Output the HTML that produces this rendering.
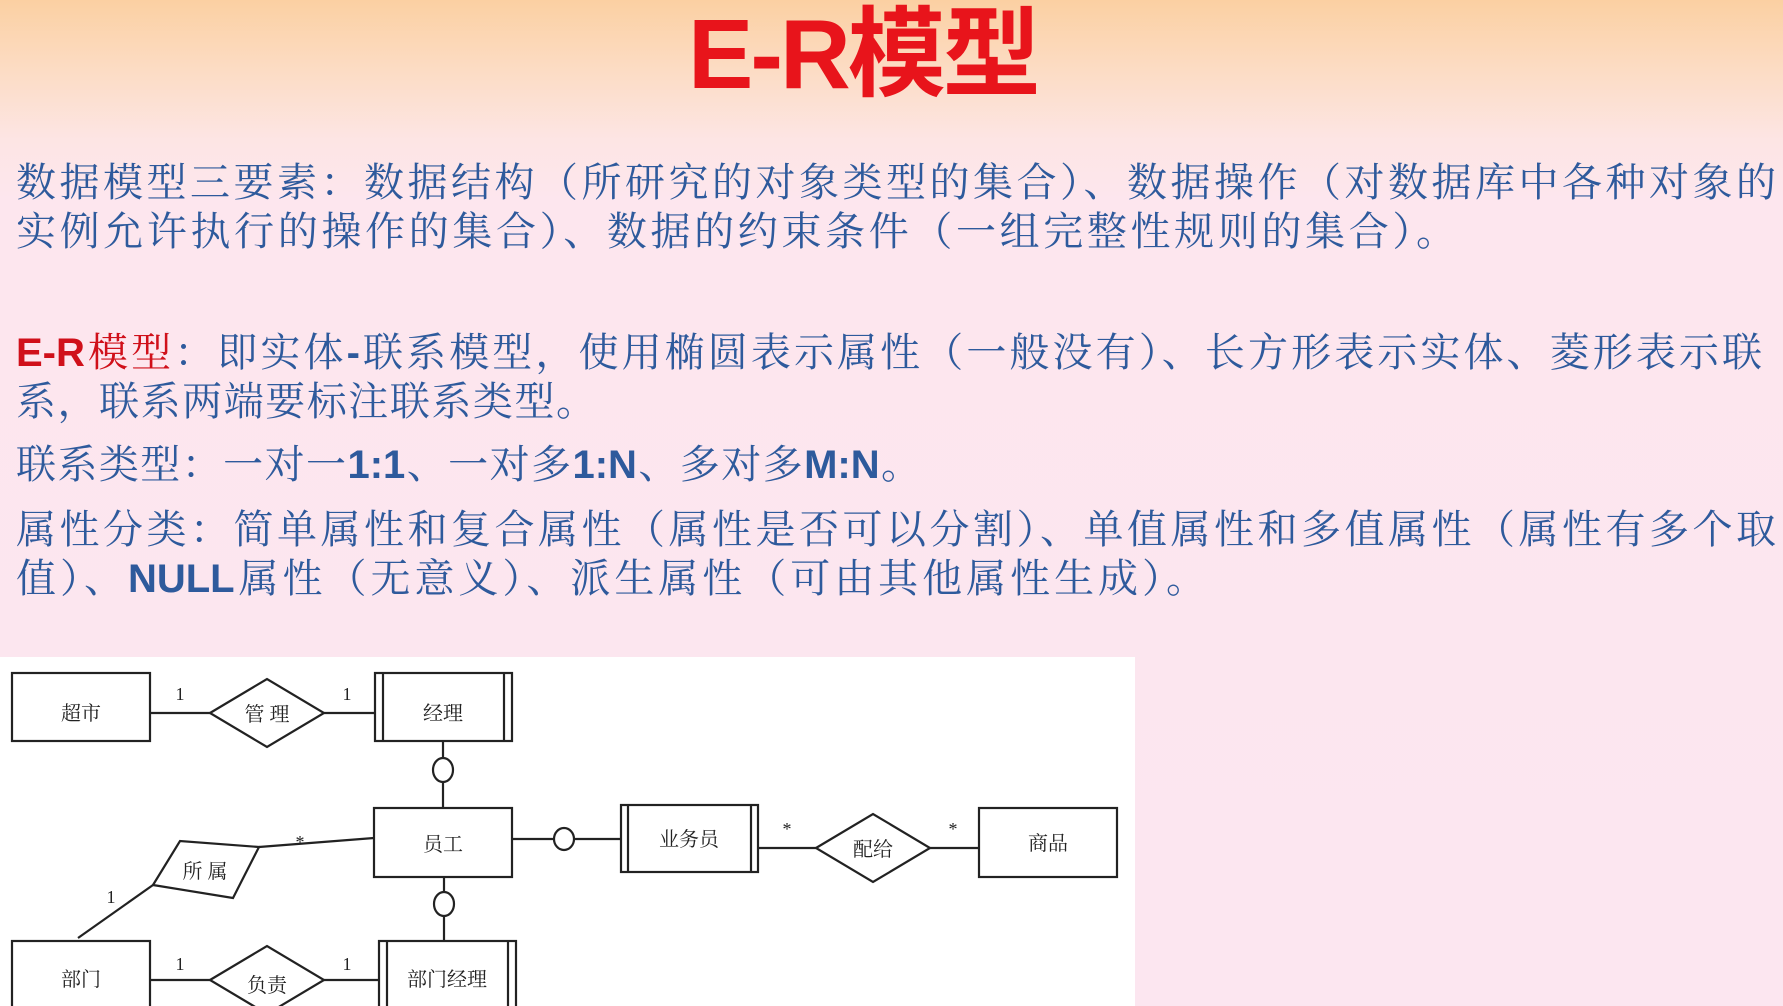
<!DOCTYPE html>
<html><head><meta charset="utf-8"><style>
html,body{margin:0;padding:0}
body{width:1783px;height:1006px;position:relative;overflow:hidden;
background:linear-gradient(180deg,#fbd0a2 0px,#fcdcc4 70px,#fde5e4 140px,#fde6ee 200px,#fce6f0 1006px);
font-family:"Liberation Serif","Noto Serif CJK SC",serif;}
.title{position:absolute;left:688px;top:-6px;font-family:"Liberation Sans","Noto Sans CJK SC",sans-serif;font-weight:bold;font-size:98px;color:#e8141b;line-height:120px;letter-spacing:-3px}
.l{position:absolute;left:16px;font-size:40px;line-height:48px;color:#2e5a9c;white-space:nowrap;text-align:justify;text-align-last:justify}
.l b{font-family:"Liberation Sans",sans-serif;font-weight:bold}
.r{color:#d0101a}
.r b{color:#d0101a}
</style></head><body>
<div class="title">E-R模型</div>
<div class="l" style="top:159px;width:1760px">数据模型三要素：数据结构（所研究的对象类型的集合）、数据操作（对数据库中各种对象的</div>
<div class="l" style="top:208px;width:1440px">实例允许执行的操作的集合）、数据的约束条件（一组完整性规则的集合）。</div>
<div class="l" style="top:329px;width:1746px"><span class="r"><b>E-R</b>模型</span>：即实体<b>-</b>联系模型，使用椭圆表示属性（一般没有）、长方形表示实体、菱形表示联</div>
<div class="l" style="top:378px;width:580px">系，联系两端要标注联系类型。</div>
<div class="l" style="top:441px;width:905px">联系类型：一对一<b>1:1</b>、一对多<b>1:N</b>、多对多<b>M:N</b>。</div>
<div class="l" style="top:506px;width:1760px">属性分类：简单属性和复合属性（属性是否可以分割）、单值属性和多值属性（属性有多个取</div>
<div class="l" style="top:555px;width:1190px">值）、<b>NULL</b>属性（无意义）、派生属性（可由其他属性生成）。</div>

<svg style="position:absolute;left:0;top:657px" width="1135" height="349" viewBox="0 657 1135 349">
<rect x="0" y="657" width="1135" height="349" fill="#fff"/>
<g stroke="#222" stroke-width="2.2" fill="#fff">
<line x1="150" y1="713" x2="210" y2="713"/><line x1="324" y1="713" x2="375" y2="713"/>
<line x1="443" y1="741" x2="443" y2="808"/>
<line x1="512" y1="839" x2="621" y2="839"/>
<line x1="758" y1="848" x2="816" y2="848"/><line x1="930" y1="848" x2="979" y2="848"/>
<line x1="444" y1="877" x2="444" y2="941"/>
<line x1="150" y1="980" x2="210" y2="980"/><line x1="324" y1="980" x2="379" y2="980"/>
<line x1="259" y1="847" x2="374" y2="838"/>
<line x1="153" y1="885" x2="78" y2="938"/>
<rect x="12" y="673" width="138" height="68"/>
<polygon points="210,713 267,679 324,713 267,747"/>
<rect x="375" y="673" width="137" height="68"/><line x1="383" y1="673" x2="383" y2="741"/><line x1="504" y1="673" x2="504" y2="741"/>
<ellipse cx="443" cy="770" rx="10" ry="12"/>
<rect x="374" y="808" width="138" height="69"/>
<polygon points="153,885 180,841 259,847 233,898"/>
<ellipse cx="564" cy="839" rx="10" ry="11"/>
<rect x="621" y="805" width="137" height="67"/><line x1="628" y1="805" x2="628" y2="872"/><line x1="751" y1="805" x2="751" y2="872"/>
<polygon points="816,848 873,814 930,848 873,882"/>
<rect x="979" y="808" width="138" height="69"/>
<ellipse cx="444" cy="904" rx="10" ry="12"/>
<rect x="12" y="941" width="138" height="80"/>
<polygon points="210,980 267,946 324,980 267,1014"/>
<rect x="379" y="941" width="137" height="80"/><line x1="387" y1="941" x2="387" y2="1010"/><line x1="508" y1="941" x2="508" y2="1010"/>
</g>
<g font-family="'Liberation Serif','Noto Serif CJK SC',serif" font-size="20" fill="#222" text-anchor="middle">
<text x="81" y="720">超市</text>
<text x="267" y="721">管 理</text>
<text x="443" y="720">经理</text>
<text x="443" y="851">员工</text>
<text x="205" y="878">所 属</text>
<text x="689" y="846">业务员</text>
<text x="873" y="856">配给</text>
<text x="1048" y="850">商品</text>
<text x="81" y="986">部门</text>
<text x="267" y="992">负责</text>
<text x="447" y="986">部门经理</text>
<text x="180" y="700" font-size="18">1</text><text x="347" y="700" font-size="18">1</text>
<text x="180" y="970" font-size="18">1</text><text x="347" y="970" font-size="18">1</text>
<text x="111" y="903" font-size="18">1</text>
<text x="300" y="848" font-size="18">*</text>
<text x="787" y="835" font-size="18">*</text><text x="953" y="835" font-size="18">*</text>
</g>
</svg>
</body></html>
